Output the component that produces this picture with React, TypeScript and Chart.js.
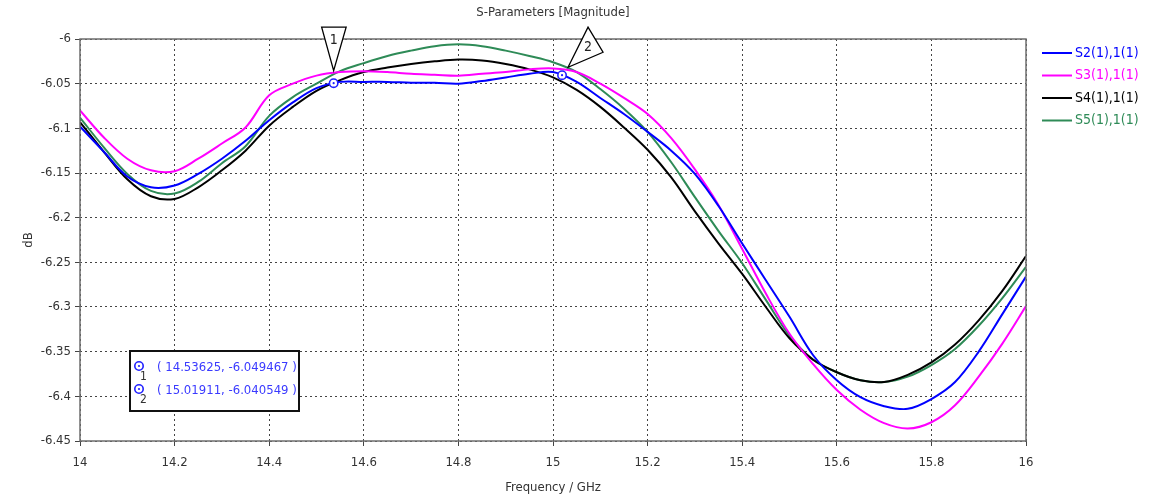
import React, { useEffect, useRef } from "react";
import { Chart, registerables } from "chart.js";

Chart.register(...registerables);

const freqs = [
  14.0, 14.05, 14.1, 14.15, 14.2, 14.25, 14.3, 14.35, 14.4, 14.45, 14.5, 14.55, 14.6, 14.65, 14.7, 14.75, 14.8, 14.85,
  14.9, 14.95, 15.0, 15.05, 15.1, 15.15, 15.2, 15.25, 15.3, 15.35, 15.4, 15.45, 15.5, 15.55, 15.6, 15.65, 15.7, 15.75,
  15.8, 15.85, 15.9, 15.95, 16.0,
];

const s2 = [
  -6.098, -6.126, -6.154, -6.166, -6.164, -6.151, -6.134, -6.114, -6.091, -6.071, -6.055, -6.048, -6.048, -6.048,
  -6.049, -6.049, -6.05, -6.047, -6.043, -6.039, -6.037, -6.048, -6.066, -6.084, -6.104, -6.125, -6.151, -6.187,
  -6.229, -6.27, -6.311, -6.354, -6.382, -6.401, -6.411, -6.414, -6.403, -6.384, -6.35, -6.308, -6.266,
];

const s3 = [
  -6.08, -6.11, -6.134, -6.147, -6.148, -6.134, -6.117, -6.099, -6.063, -6.05, -6.041, -6.037, -6.036, -6.037,
  -6.039, -6.04, -6.041, -6.039, -6.037, -6.034, -6.033, -6.037, -6.05, -6.066, -6.084, -6.111, -6.146, -6.186,
  -6.235, -6.285, -6.33, -6.364, -6.393, -6.415, -6.43, -6.436, -6.429, -6.41, -6.378, -6.341, -6.299,
];

const s4 = [
  -6.093, -6.126, -6.157, -6.176, -6.179, -6.166, -6.147, -6.125, -6.097, -6.076, -6.058, -6.046, -6.037, -6.032,
  -6.028, -6.025, -6.023, -6.024, -6.028, -6.034, -6.043, -6.057, -6.076, -6.099, -6.124, -6.155, -6.193, -6.229,
  -6.263, -6.3, -6.335, -6.359, -6.373, -6.382, -6.384, -6.376, -6.362, -6.342, -6.315, -6.282, -6.243,
];

const s5 = [
  -6.088, -6.121, -6.151, -6.17, -6.173, -6.16, -6.139, -6.12, -6.086, -6.065, -6.05, -6.036, -6.027, -6.019,
  -6.013, -6.008, -6.006, -6.008, -6.013, -6.019, -6.026, -6.037, -6.056, -6.078, -6.104, -6.138, -6.177, -6.215,
  -6.251, -6.292, -6.332, -6.359, -6.373, -6.382, -6.384, -6.378, -6.365, -6.347, -6.321, -6.29, -6.255,
];

const seriesNames = ["S2(1),1(1)", "S3(1),1(1)", "S4(1),1(1)", "S5(1),1(1)"];
const seriesColors = ["#0000ff", "#ff00ff", "#000000", "#2e8b57"];

const xTicks = [14, 14.2, 14.4, 14.6, 14.8, 15, 15.2, 15.4, 15.6, 15.8, 16];
const yTicks = [-6, -6.05, -6.1, -6.15, -6.2, -6.25, -6.3, -6.35, -6.4, -6.45];

const markerX = [14.53625, 15.01911];
const markerY = [-6.049467, -6.040549];
const markerLabels = ["1", "2"];
const markerTexts = ["( 14.53625, -6.049467 )", "( 15.01911, -6.040549 )"];

const FONT = "'DejaVu Sans Condensed', 'Liberation Sans', sans-serif";

const overlayPlugin = {
  id: "overlay",
  afterDraw(chart: any) {
    const { ctx, chartArea, scales } = chart;
    const xs = scales.x;
    const ys = scales.y;
    ctx.save();
    // frame
    ctx.strokeStyle = "#6e6e6e";
    ctx.lineWidth = 1.5;
    ctx.strokeRect(chartArea.left, chartArea.top, chartArea.right - chartArea.left, chartArea.bottom - chartArea.top);

    // titles
    ctx.fillStyle = "#333";
    ctx.font = `13px ${FONT}`;
    ctx.textAlign = "center";
    ctx.textBaseline = "middle";
    ctx.fillText("S-Parameters [Magnitude]", 553, 13);
    ctx.fillText("Frequency / GHz", 553, 488);
    ctx.save();
    ctx.translate(29, 240);
    ctx.rotate(-Math.PI / 2);
    ctx.fillText("dB", 0, 0);
    ctx.restore();

    // legend
    ctx.textAlign = "left";
    ctx.font = `14px ${FONT}`;
    seriesNames.forEach((name, i) => {
      const y = 53 + i * 22.5;
      ctx.strokeStyle = seriesColors[i];
      ctx.lineWidth = 2;
      ctx.beginPath();
      ctx.moveTo(1042, y);
      ctx.lineTo(1072, y);
      ctx.stroke();
      ctx.fillStyle = seriesColors[i];
      ctx.fillText(name, 1075, y);
    });

    const drawCircle = (cx: number, cy: number) => {
      ctx.beginPath();
      ctx.arc(cx, cy, 4.2, 0, Math.PI * 2);
      ctx.fillStyle = "#fff";
      ctx.fill();
      ctx.strokeStyle = "#2020ff";
      ctx.lineWidth = 1.6;
      ctx.stroke();
      ctx.beginPath();
      ctx.arc(cx, cy, 1.1, 0, Math.PI * 2);
      ctx.fillStyle = "#2020ff";
      ctx.fill();
    };

    const p1x = xs.getPixelForValue(markerX[0]);
    const p1y = ys.getPixelForValue(markerY[0]);
    const p2x = xs.getPixelForValue(markerX[1]);
    const p2y = ys.getPixelForValue(markerY[1]);

    ctx.strokeStyle = "#000";
    ctx.lineWidth = 1.3;
    ctx.fillStyle = "#fff";
    ctx.beginPath();
    ctx.moveTo(p1x, p1y - 12.5);
    ctx.lineTo(p1x - 12, p1y - 56);
    ctx.lineTo(p1x + 12.5, p1y - 56);
    ctx.closePath();
    ctx.fill();
    ctx.stroke();
    ctx.beginPath();
    ctx.moveTo(p2x + 6, p2y - 8);
    ctx.lineTo(p2x + 26, p2y - 48);
    ctx.lineTo(p2x + 41, p2y - 23);
    ctx.closePath();
    ctx.fillStyle = "#fff";
    ctx.fill();
    ctx.stroke();

    ctx.fillStyle = "#222";
    ctx.font = `14px ${FONT}`;
    ctx.textAlign = "center";
    ctx.fillText(markerLabels[0], p1x, p1y - 43);
    ctx.fillText(markerLabels[1], p2x + 26, p2y - 28);

    drawCircle(p1x, p1y);
    drawCircle(p2x, p2y);

    // marker box
    ctx.fillStyle = "#fff";
    ctx.fillRect(130, 351, 169, 60);
    ctx.strokeStyle = "#111";
    ctx.lineWidth = 2;
    ctx.strokeRect(130, 351, 169, 60);
    ctx.textAlign = "left";
    markerTexts.forEach((t, i) => {
      const y = 368 + i * 23;
      drawCircle(139, y - 2);
      ctx.fillStyle = "#333";
      ctx.font = `12px ${FONT}`;
      ctx.fillText(markerLabels[i], 140, y + 9);
      ctx.fillStyle = "#3a3aff";
      ctx.font = `13px ${FONT}`;
      ctx.fillText(t, 157, y);
    });
    ctx.restore();
  },
};

export default function App() {
  const ref = useRef<HTMLCanvasElement | null>(null);
  useEffect(() => {
    if (!ref.current) return;
    const datasets = [s2, s3, s4, s5].map((vals, i) => ({
      label: seriesNames[i],
      data: freqs.map((f, j) => ({ x: f, y: vals[j] })),
      borderColor: seriesColors[i],
      borderWidth: 2,
      pointRadius: 0,
      tension: 0.35,
      fill: false,
    }));
    const chart = new Chart(ref.current, {
      type: "line",
      data: { datasets },
      options: {
        animation: false,
        responsive: false,
        layout: { padding: { left: 0, right: 139, top: 39, bottom: 0 } },
        plugins: { legend: { display: false }, title: { display: false }, tooltip: { enabled: false } },
        scales: {
          x: {
            type: "linear",
            min: 14,
            max: 16,
            afterBuildTicks: (s: any) => {
              s.ticks = xTicks.map((v) => ({ value: v }));
            },
            afterFit: (s: any) => {
              s.height = 58;
            },
            ticks: {
              color: "#333",
              font: { family: FONT, size: 13 },
              padding: 9,
              maxRotation: 0,
              callback: (v: any) => String(v),
            },
            grid: { color: "#444", tickColor: "#444", tickLength: 5, lineWidth: 1 },
            border: { display: false, dash: [2, 3] },
          },
          y: {
            type: "linear",
            min: -6.45,
            max: -6,
            afterBuildTicks: (s: any) => {
              s.ticks = yTicks.map((v) => ({ value: v }));
            },
            afterFit: (s: any) => {
              s.width = 80;
            },
            ticks: {
              color: "#333",
              font: { family: FONT, size: 13 },
              padding: 4,
              callback: (v: any) => String(v),
            },
            grid: { color: "#444", tickColor: "#444", tickLength: 5, lineWidth: 1 },
            border: { display: false, dash: [2, 3] },
          },
        },
      },
      plugins: [overlayPlugin],
    });
    return () => chart.destroy();
  }, []);
  return (
    <div style={{ position: "absolute", left: 0, top: 0, width: 1165, height: 499, background: "#fff" }}>
      <canvas ref={ref} width={1165} height={499} style={{ width: 1165, height: 499, display: "block" }} />
    </div>
  );
}
